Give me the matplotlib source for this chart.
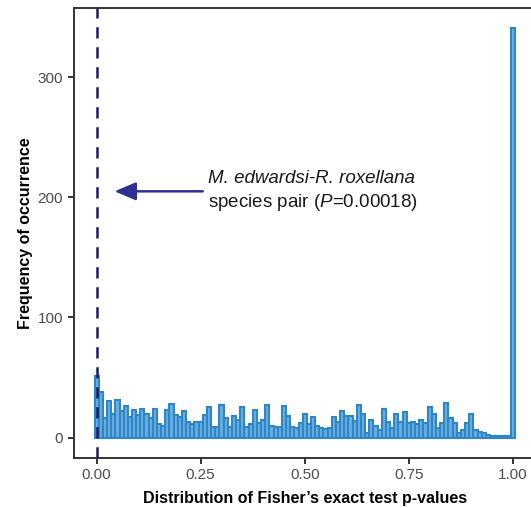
import matplotlib
matplotlib.use("Agg")
import matplotlib.pyplot as plt
import numpy as np

plt.rcParams['font.family'] = ['Liberation Sans', 'DejaVu Sans']
plt.rcParams['mathtext.fontset'] = 'custom'
plt.rcParams['mathtext.rm'] = 'Liberation Sans'
plt.rcParams['mathtext.it'] = 'Liberation Sans:italic'

# histogram of Fisher's exact test p-values, bins of width 0.01 centred on 0.00 ... 1.00
bin_width = 0.01
bin_centers = np.round(np.arange(0, 101) * bin_width, 2)
counts = [
    51, 38, 16, 30, 20, 31, 22, 26, 17, 23,
    19, 24, 20, 16, 24, 11, 10, 23, 28, 19,
    17, 22, 13, 11, 13, 13, 19, 25, 9, 9,
    27, 16, 9, 18, 15, 25, 9, 11, 23, 12,
    15, 27, 10, 9, 9, 26, 18, 9, 8, 12,
    20, 11, 17, 10, 8, 7, 8, 17, 13, 22,
    18, 18, 14, 27, 20, 4, 15, 10, 6, 24,
    13, 8, 20, 13, 21, 12, 13, 11, 15, 12,
    25, 20, 8, 12, 29, 16, 12, 4, 6, 12,
    20, 6, 5, 4, 2, 1, 1, 1, 1, 1,
    341,
]
x_ticks = [0.00, 0.25, 0.50, 0.75, 1.00]
x_tick_labels = ["0.00", "0.25", "0.50", "0.75", "1.00"]
y_ticks = [0, 100, 200, 300]
pair_p = 0.00018

fig = plt.figure(figsize=(5.31, 5.08), dpi=100)
ax = fig.add_axes([73.5 / 531, 1 - 458 / 508, (536 - 73.5) / 531, (458 - 7.5) / 508])

ax.bar(bin_centers, counts, width=bin_width, facecolor="#6aaee0",
       edgecolor="#2f86c6", linewidth=1.5, zorder=2)

# observed species pair
ax.axvline(pair_p, color="#1c1a5e", linestyle=(0, (4.5, 3.5)), linewidth=1.8, zorder=3)
ax.annotate("", xy=(0.043, 205), xytext=(0.255, 205),
            arrowprops=dict(arrowstyle="-|>,head_length=1.3,head_width=0.55",
                            color="#2e3192", linewidth=1.8, shrinkA=0, shrinkB=0))
ax.text(0.2676, 215.6, "M. edwardsi-R. roxellana", fontsize=13.5, style="italic",
        va="center", ha="left", color="#1a1a1a")
ax.text(0.2676, 196, r"species pair ($\mathit{P}$=%.5f)" % pair_p, fontsize=13.5,
        va="center", ha="left", color="#1a1a1a")

ax.set_xlim(-0.0555, 1.0555)
ax.set_ylim(-17.05, 358.05)
ax.set_xticks(x_ticks)
ax.set_xticklabels(x_tick_labels)
ax.set_yticks(y_ticks)
ax.tick_params(axis="both", length=4, width=1.4, color="#333333",
               labelcolor="#4d4d4d", labelsize=11, pad=3.5)
for s in ax.spines.values():
    s.set_linewidth(1.4)
    s.set_color("#333333")

ax.set_xlabel("Distribution of Fisher\u2019s exact test p-values", fontsize=11.5,
              fontweight="bold", labelpad=6)
ax.set_ylabel("Frequency of occurrence", fontsize=11.5, fontweight="bold", labelpad=3)

fig.savefig("out.png", dpi=100)
